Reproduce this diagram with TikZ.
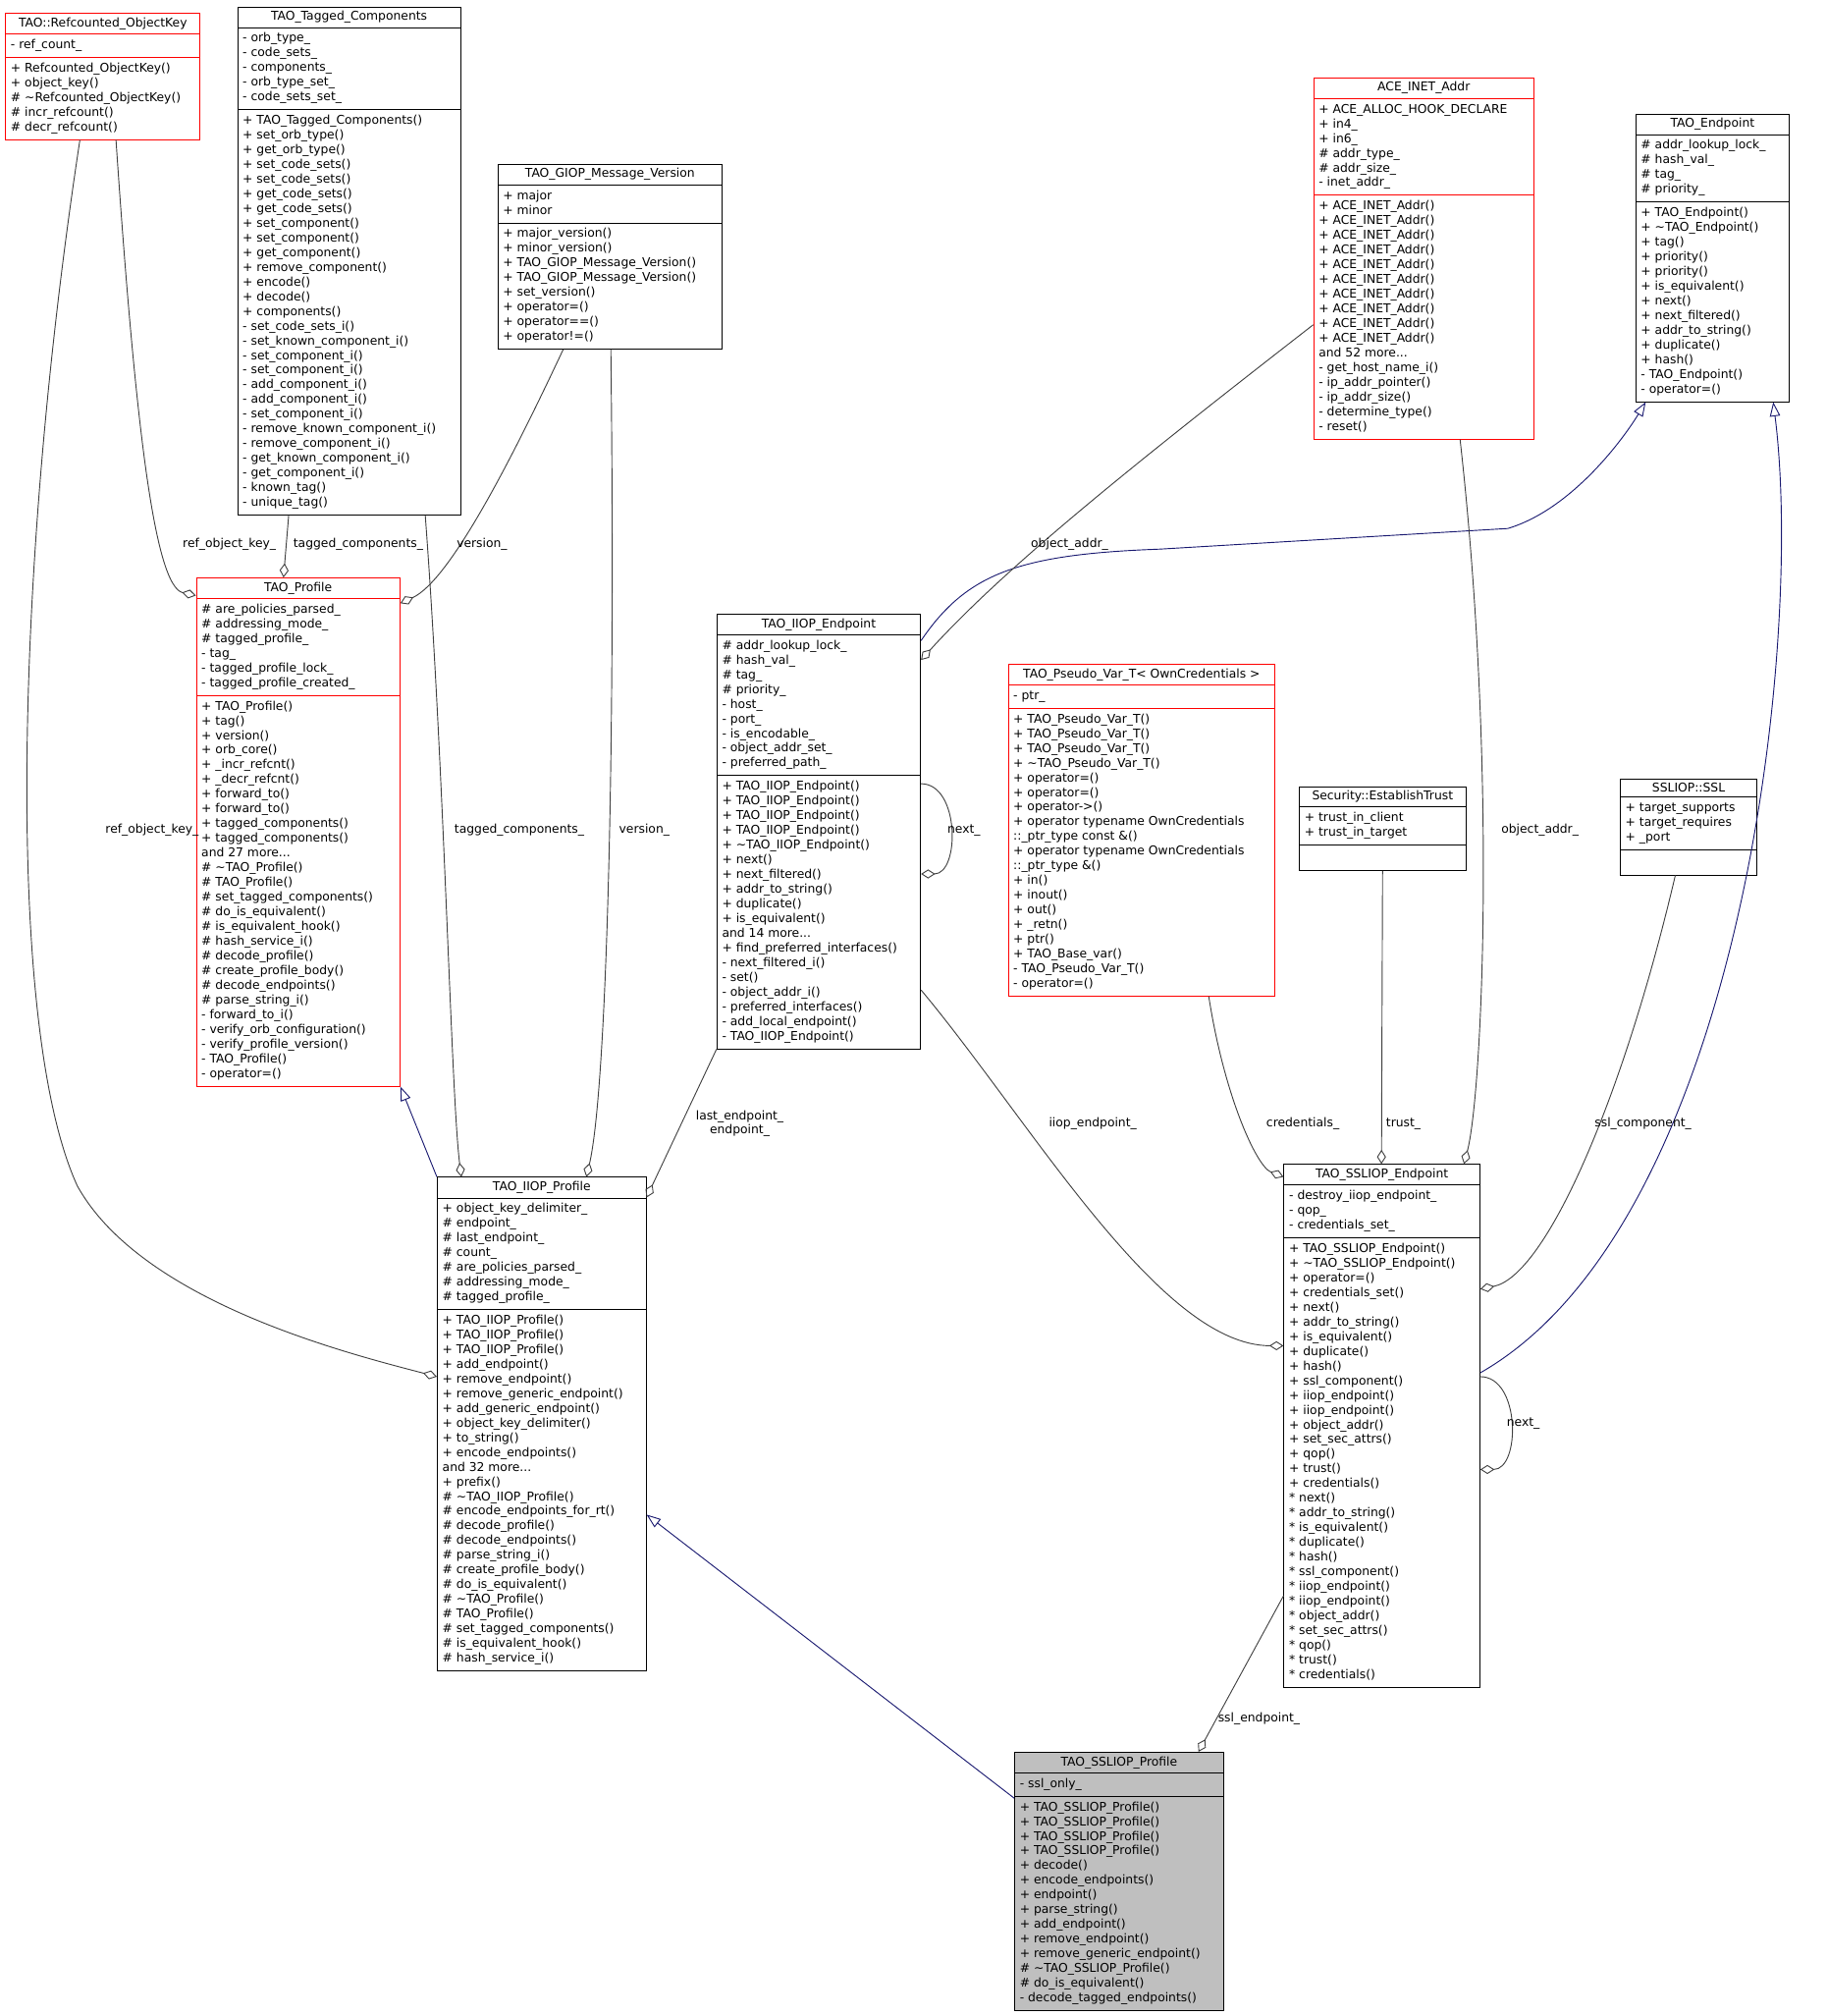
\documentclass[tikz,border=0pt]{standalone}
\usepackage{fontspec}
\setmainfont{DejaVu Sans}
\usetikzlibrary{shapes.multipart,arrows.meta}
\definecolor{eg}{HTML}{404040}
\definecolor{mb}{HTML}{191970}
\newcommand{\tl}[1]{\begin{tabular}{@{}l@{}}#1\end{tabular}}
\tikzset{
 cls/.style={rectangle split,rectangle split parts=3,draw=black,line width=0.7pt,anchor=north west,
   rectangle split part align={center,left,left},inner xsep=4pt,inner ysep=3pt,
   font=\fontsize{9.4}{11.4}\selectfont,fill=white},
 redc/.style={draw=red},
 agg/.style={draw=eg,line width=0.7pt,-{Diamond[open,length=11pt,width=7pt]}},
 inh/.style={draw=mb,line width=0.7pt,-{Triangle[open,length=11pt,width=8pt]}},
 lbl/.style={font=\fontsize{9.4}{10.5}\selectfont,align=center,inner sep=1pt}
}
\renewcommand{\arraystretch}{1}
\begin{document}
\begin{tikzpicture}[x=1pt,y=-1pt]
\useasboundingbox (0,0) rectangle (1417,1564);
% classes
\node[cls,minimum width=173pt] (tc) at (184,5) {TAO\_Tagged\_Components
\nodepart{two}\tl{- orb\_type\_\\- code\_sets\_\\- components\_\\- orb\_type\_set\_\\- code\_sets\_set\_}
\nodepart{three}\tl{+ TAO\_Tagged\_Components()\\+ set\_orb\_type()\\+ get\_orb\_type()\\+ set\_code\_sets()\\+ set\_code\_sets()\\+ get\_code\_sets()\\+ get\_code\_sets()\\+ set\_component()\\+ set\_component()\\+ get\_component()\\+ remove\_component()\\+ encode()\\+ decode()\\+ components()\\- set\_code\_sets\_i()\\- set\_known\_component\_i()\\- set\_component\_i()\\- set\_component\_i()\\- add\_component\_i()\\- add\_component\_i()\\- set\_component\_i()\\- remove\_known\_component\_i()\\- remove\_component\_i()\\- get\_known\_component\_i()\\- get\_component\_i()\\- known\_tag()\\- unique\_tag()}};
\node[cls,redc,minimum width=151pt] (rk) at (4,10) {TAO::Refcounted\_ObjectKey
\nodepart{two}\tl{- ref\_count\_}
\nodepart{three}\tl{+ Refcounted\_ObjectKey()\\+ object\_key()\\\# \textasciitilde Refcounted\_ObjectKey()\\\# incr\_refcount()\\\# decr\_refcount()}};
\node[cls,minimum width=174pt] (gv) at (386,127) {TAO\_GIOP\_Message\_Version
\nodepart{two}\tl{+ major\\+ minor}
\nodepart{three}\tl{+ major\_version()\\+ minor\_version()\\+ TAO\_GIOP\_Message\_Version()\\+ TAO\_GIOP\_Message\_Version()\\+ set\_version()\\+ operator=()\\+ operator==()\\+ operator!=()}};
\node[cls,redc,minimum width=171pt] (ace) at (1019,60) {ACE\_INET\_Addr
\nodepart{two}\tl{+ ACE\_ALLOC\_HOOK\_DECLARE\\+ in4\_\\+ in6\_\\\# addr\_type\_\\\# addr\_size\_\\- inet\_addr\_}
\nodepart{three}\tl{+ ACE\_INET\_Addr()\\+ ACE\_INET\_Addr()\\+ ACE\_INET\_Addr()\\+ ACE\_INET\_Addr()\\+ ACE\_INET\_Addr()\\+ ACE\_INET\_Addr()\\+ ACE\_INET\_Addr()\\+ ACE\_INET\_Addr()\\+ ACE\_INET\_Addr()\\+ ACE\_INET\_Addr()\\and 52 more...\\- get\_host\_name\_i()\\- ip\_addr\_pointer()\\- ip\_addr\_size()\\- determine\_type()\\- reset()}};
\node[cls,minimum width=119pt] (te) at (1269,88) {TAO\_Endpoint
\nodepart{two}\tl{\# addr\_lookup\_lock\_\\\# hash\_val\_\\\# tag\_\\\# priority\_}
\nodepart{three}\tl{+ TAO\_Endpoint()\\+ \textasciitilde TAO\_Endpoint()\\+ tag()\\+ priority()\\+ priority()\\+ is\_equivalent()\\+ next()\\+ next\_filtered()\\+ addr\_to\_string()\\+ duplicate()\\+ hash()\\- TAO\_Endpoint()\\- operator=()}};
\node[cls,redc,minimum width=158pt] (tp) at (152,448) {TAO\_Profile
\nodepart{two}\tl{\# are\_policies\_parsed\_\\\# addressing\_mode\_\\\# tagged\_profile\_\\- tag\_\\- tagged\_profile\_lock\_\\- tagged\_profile\_created\_}
\nodepart{three}\tl{+ TAO\_Profile()\\+ tag()\\+ version()\\+ orb\_core()\\+ \_incr\_refcnt()\\+ \_decr\_refcnt()\\+ forward\_to()\\+ forward\_to()\\+ tagged\_components()\\+ tagged\_components()\\and 27 more...\\\# \textasciitilde TAO\_Profile()\\\# TAO\_Profile()\\\# set\_tagged\_components()\\\# do\_is\_equivalent()\\\# is\_equivalent\_hook()\\\# hash\_service\_i()\\\# decode\_profile()\\\# create\_profile\_body()\\\# decode\_endpoints()\\\# parse\_string\_i()\\- forward\_to\_i()\\- verify\_orb\_configuration()\\- verify\_profile\_version()\\- TAO\_Profile()\\- operator=()}};
\node[cls,minimum width=158pt] (ie) at (556,476) {TAO\_IIOP\_Endpoint
\nodepart{two}\tl{\# addr\_lookup\_lock\_\\\# hash\_val\_\\\# tag\_\\\# priority\_\\- host\_\\- port\_\\- is\_encodable\_\\- object\_addr\_set\_\\- preferred\_path\_}
\nodepart{three}\tl{+ TAO\_IIOP\_Endpoint()\\+ TAO\_IIOP\_Endpoint()\\+ TAO\_IIOP\_Endpoint()\\+ TAO\_IIOP\_Endpoint()\\+ \textasciitilde TAO\_IIOP\_Endpoint()\\+ next()\\+ next\_filtered()\\+ addr\_to\_string()\\+ duplicate()\\+ is\_equivalent()\\and 14 more...\\+ find\_preferred\_interfaces()\\- next\_filtered\_i()\\- set()\\- object\_addr\_i()\\- preferred\_interfaces()\\- add\_local\_endpoint()\\- TAO\_IIOP\_Endpoint()}};
\node[cls,redc,minimum width=207pt] (pv) at (782,515) {TAO\_Pseudo\_Var\_T< OwnCredentials >
\nodepart{two}\tl{- ptr\_}
\nodepart{three}\tl{+ TAO\_Pseudo\_Var\_T()\\+ TAO\_Pseudo\_Var\_T()\\+ TAO\_Pseudo\_Var\_T()\\+ \textasciitilde TAO\_Pseudo\_Var\_T()\\+ operator=()\\+ operator=()\\+ operator->()\\+ operator typename OwnCredentials\\::\_ptr\_type const \&()\\+ operator typename OwnCredentials\\::\_ptr\_type \&()\\+ in()\\+ inout()\\+ out()\\+ \_retn()\\+ ptr()\\+ TAO\_Base\_var()\\- TAO\_Pseudo\_Var\_T()\\- operator=()}};
\node[cls,minimum width=129pt] (et) at (1008,610) {Security::EstablishTrust
\nodepart{two}\tl{+ trust\_in\_client\\+ trust\_in\_target}
\nodepart{three}\rule{0pt}{13pt}};
\node[cls,minimum width=106pt] (ssl) at (1257,604) {SSLIOP::SSL
\nodepart{two}\tl{+ target\_supports\\+ target\_requires\\+ \_port}
\nodepart{three}\rule{0pt}{13pt}};
\node[cls,minimum width=162pt] (ip) at (339,913) {TAO\_IIOP\_Profile
\nodepart{two}\tl{+ object\_key\_delimiter\_\\\# endpoint\_\\\# last\_endpoint\_\\\# count\_\\\# are\_policies\_parsed\_\\\# addressing\_mode\_\\\# tagged\_profile\_}
\nodepart{three}\tl{+ TAO\_IIOP\_Profile()\\+ TAO\_IIOP\_Profile()\\+ TAO\_IIOP\_Profile()\\+ add\_endpoint()\\+ remove\_endpoint()\\+ remove\_generic\_endpoint()\\+ add\_generic\_endpoint()\\+ object\_key\_delimiter()\\+ to\_string()\\+ encode\_endpoints()\\and 32 more...\\+ prefix()\\\# \textasciitilde TAO\_IIOP\_Profile()\\\# encode\_endpoints\_for\_rt()\\\# decode\_profile()\\\# decode\_endpoints()\\\# parse\_string\_i()\\\# create\_profile\_body()\\\# do\_is\_equivalent()\\\# \textasciitilde TAO\_Profile()\\\# TAO\_Profile()\\\# set\_tagged\_components()\\\# is\_equivalent\_hook()\\\# hash\_service\_i()}};
\node[cls,minimum width=152pt] (se) at (996,903) {TAO\_SSLIOP\_Endpoint
\nodepart{two}\tl{- destroy\_iiop\_endpoint\_\\- qop\_\\- credentials\_set\_}
\nodepart{three}\tl{+ TAO\_SSLIOP\_Endpoint()\\+ \textasciitilde TAO\_SSLIOP\_Endpoint()\\+ operator=()\\+ credentials\_set()\\+ next()\\+ addr\_to\_string()\\+ is\_equivalent()\\+ duplicate()\\+ hash()\\+ ssl\_component()\\+ iiop\_endpoint()\\+ iiop\_endpoint()\\+ object\_addr()\\+ set\_sec\_attrs()\\+ qop()\\+ trust()\\+ credentials()\\{*} next()\\{*} addr\_to\_string()\\{*} is\_equivalent()\\{*} duplicate()\\{*} hash()\\{*} ssl\_component()\\{*} iiop\_endpoint()\\{*} iiop\_endpoint()\\{*} object\_addr()\\{*} set\_sec\_attrs()\\{*} qop()\\{*} trust()\\{*} credentials()}};
\node[cls,fill=black!25,minimum width=162pt] (sp) at (787,1359) {TAO\_SSLIOP\_Profile
\nodepart{two}\tl{- ssl\_only\_}
\nodepart{three}\tl{+ TAO\_SSLIOP\_Profile()\\+ TAO\_SSLIOP\_Profile()\\+ TAO\_SSLIOP\_Profile()\\+ TAO\_SSLIOP\_Profile()\\+ decode()\\+ encode\_endpoints()\\+ endpoint()\\+ parse\_string()\\+ add\_endpoint()\\+ remove\_endpoint()\\+ remove\_generic\_endpoint()\\\# \textasciitilde TAO\_SSLIOP\_Profile()\\\# do\_is\_equivalent()\\- decode\_tagged\_endpoints()}};
% connectors
\draw[agg] (90,0 |- rk.south) .. controls (105,330) and (120,455) .. (tp.west |- 0,462);
\draw[agg] (62,0 |- rk.south) .. controls (10,450) and (5,800) .. (60,920) .. controls (110,1010) and (270,1050) .. (ip.west |- 0,1068);
\draw[agg] (224,0 |- tc.south) -- (220,0 |- tp.north);
\draw[agg] (330,0 |- tc.south) .. controls (345,600) and (350,850) .. (358,0 |- ip.north);
\draw[agg] (437,0 |- gv.south) .. controls (400,350) and (350,450) .. (tp.east |- 0,468);
\draw[agg] (474,0 |- gv.south) .. controls (478,600) and (470,850) .. (455,0 |- ip.north);
\draw[inh] (ip.north west) -- (tp.south east);
\draw[inh] (sp.west |- 0,1395) -- (ip.east |- 0,1175);
\draw[agg] (ie.south west) -- (ip.east |- 0,929);
\draw[agg] (ie.east |- 0,608) .. controls (745,608) and (745,678) .. (ie.east |- 0,678);
\draw[inh] (ie.east |- 0,497) .. controls (750,445) and (790,430) .. (900,426) -- (1170,410) .. controls (1220,395) and (1260,340) .. (1277,0 |- te.south);
\draw[agg] (ace.west |- 0,252) .. controls (880,360) and (780,440) .. (ie.east |- 0,512);
\draw[agg] (1133,0 |- ace.south) .. controls (1162,600) and (1150,850) .. (1136,0 |- se.north);
\draw[agg] (ie.east |- 0,768) .. controls (800,870) and (900,1044) .. (se.west |- 0,1044);
\draw[agg] (938,0 |- pv.south) .. controls (950,850) and (975,905) .. (se.west |- 0,913);
\draw[agg] (et.south) -- (1072,0 |- se.north);
\draw[agg] (1300,0 |- ssl.south) .. controls (1260,850) and (1200,990) .. (se.east |- 0,1000);
\draw[inh] (se.east |- 0,1065) .. controls (1350,950) and (1400,500) .. (1376,0 |- te.south);
\draw[agg] (se.east |- 0,1068) .. controls (1180,1068) and (1180,1140) .. (se.east |- 0,1140);
\draw[agg] (se.west |- 0,1238) -- (930,0 |- sp.north);
% labels
\node[lbl] at (178,422) {ref\_object\_key\_};
\node[lbl] at (118,644) {ref\_object\_key\_};
\node[lbl] at (278,422) {tagged\_components\_};
\node[lbl] at (403,644) {tagged\_components\_};
\node[lbl] at (374,422) {version\_};
\node[lbl] at (500,644) {version\_};
\node[lbl] at (574,872) {last\_endpoint\_\\endpoint\_};
\node[lbl] at (748,644) {next\_};
\node[lbl] at (830,422) {object\_addr\_};
\node[lbl] at (1195,644) {object\_addr\_};
\node[lbl] at (848,872) {iiop\_endpoint\_};
\node[lbl] at (1011,872) {credentials\_};
\node[lbl] at (1089,872) {trust\_};
\node[lbl] at (1275,872) {ssl\_component\_};
\node[lbl] at (1182,1104) {next\_};
\node[lbl] at (977,1333) {ssl\_endpoint\_};
\end{tikzpicture}
\end{document}
